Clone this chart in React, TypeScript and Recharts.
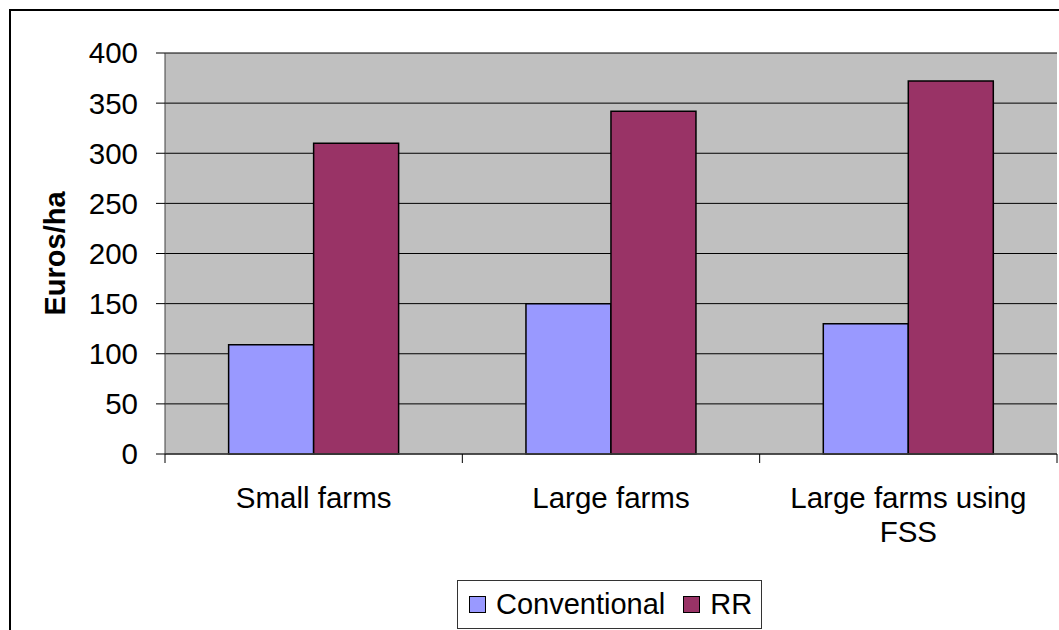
import React from 'react';
import { Bar, BarChart, CartesianGrid, XAxis, YAxis } from 'recharts';

const categories = ['Small farms', 'Large farms', 'Large farms using FSS'];
const conventional = [109, 150, 130];
const rr = [310, 342, 372];
const yTicks = [0, 50, 100, 150, 200, 250, 300, 350, 400];

const data = categories.map((name, i) => ({
  name,
  Conventional: conventional[i],
  RR: rr[i],
}));

const W = 1059;
const H = 630;
const MARGIN = { top: 53, right: 2, left: 85, bottom: 116 };
const Y_WIDTH = 80;
const FONT = '"Liberation Sans", Arial, sans-serif';
const FS = 29.5;
const BLUE = '#9999FF';
const PLUM = '#993366';

// half of one category band, used for the boundary tick marks
const HALF_BAND = (W - MARGIN.left - Y_WIDTH - MARGIN.right) / categories.length / 2;

const splitLabel = (s: string) =>
  s === 'Large farms using FSS' ? ['Large farms using', 'FSS'] : [s];

const CategoryTick = (props: any) => {
  const { x, y, payload, index } = props;
  const lines = splitLabel(payload.value);
  return (
    <g>
      <line x1={x - HALF_BAND} y1={y} x2={x - HALF_BAND} y2={y + 9} stroke="#000" strokeWidth={1} />
      {index === categories.length - 1 && (
        <line x1={x + HALF_BAND} y1={y} x2={x + HALF_BAND} y2={y + 9} stroke="#000" strokeWidth={1} />
      )}
      <text x={x} y={y + 54} textAnchor="middle" fontSize={FS} fontFamily={FONT} fill="#000">
        {lines.map((l, i) => (
          <tspan key={i} x={x} dy={i === 0 ? 0 : 34}>
            {l}
          </tspan>
        ))}
      </text>
    </g>
  );
};

const YTitle = (props: any) => {
  const { viewBox } = props;
  const cx = viewBox.x - 30;
  const cy = viewBox.y + viewBox.height / 2;
  return (
    <text
      x={cx}
      y={cy}
      transform={`rotate(-90 ${cx} ${cy})`}
      textAnchor="middle"
      dominantBaseline="central"
      fontSize={29}
      fontWeight="bold"
      fontFamily={FONT}
      fill="#000"
    >
      Euros/ha
    </text>
  );
};

const Swatch = ({ color }: { color: string }) => (
  <span
    style={{
      display: 'inline-block',
      width: 15,
      height: 15,
      background: color,
      border: '1.5px solid #000',
      marginRight: 10,
    }}
  />
);

export default function App() {
  return (
    <div style={{ position: 'absolute', left: 0, top: 0, width: W, height: H, overflow: 'hidden', background: '#fff' }}>
      <div
        style={{
          position: 'absolute',
          left: 9,
          top: 9,
          width: 1200,
          height: 800,
          border: '2px solid #000',
        }}
      />
      <div style={{ position: 'absolute', left: 0, top: 0 }}>
        <BarChart
          width={W}
          height={H}
          data={data}
          margin={MARGIN}
          barCategoryGap="21.4%"
          barGap={0}
        >
          <CartesianGrid vertical={false} stroke="#000" fill="#C0C0C0" yAxisId="l" />
          <XAxis
            dataKey="name"
            height={60}
            interval={0}
            tickSize={0}
            tickMargin={0}
            tickLine={false}
            axisLine={{ stroke: '#404040', strokeWidth: 1.5 }}
            tick={<CategoryTick />}
          />
          <YAxis
            yAxisId="l"
            width={Y_WIDTH}
            domain={[0, 400]}
            ticks={yTicks}
            interval={0}
            tickSize={9}
            tickMargin={18}
            axisLine={{ stroke: '#404040' }}
            tickLine={{ stroke: '#000' }}
            tick={{ fontSize: FS, fontFamily: FONT, fill: '#000' }}
            label={<YTitle />}
          />
          <YAxis
            yAxisId="r"
            orientation="right"
            width={0}
            tick={false}
            tickLine={false}
            axisLine={{ stroke: '#808080', strokeWidth: 1.5 }}
          />
          <Bar yAxisId="l" dataKey="Conventional" fill={BLUE} stroke="#000" strokeWidth={1.5} isAnimationActive={false} />
          <Bar yAxisId="l" dataKey="RR" fill={PLUM} stroke="#000" strokeWidth={1.5} isAnimationActive={false} />
        </BarChart>
      </div>
      <div
        style={{
          position: 'absolute',
          left: 457,
          top: 580,
          width: 303,
          height: 47,
          border: '1px solid #333',
          background: '#fff',
          display: 'flex',
          alignItems: 'center',
          fontFamily: FONT,
          fontSize: 29,
          color: '#000',
          boxSizing: 'content-box',
        }}
      >
        <span style={{ display: 'flex', alignItems: 'center', marginLeft: 11 }}>
          <Swatch color={BLUE} />
          Conventional
        </span>
        <span style={{ display: 'flex', alignItems: 'center', marginLeft: 18 }}>
          <Swatch color={PLUM} />
          RR
        </span>
      </div>
    </div>
  );
}
